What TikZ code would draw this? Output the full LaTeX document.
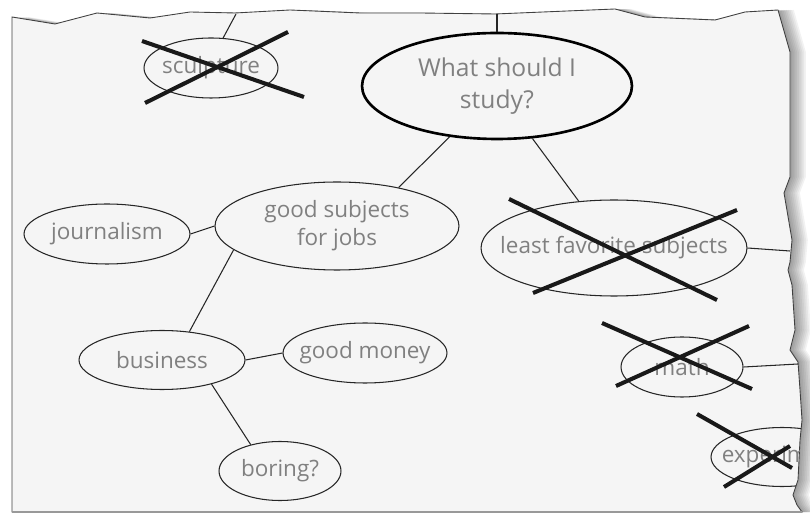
\documentclass[tikz,border=0pt]{standalone}
\usepackage{fontspec}
\setmainfont{Open Sans}
\usetikzlibrary{shapes.geometric}

\def\edgepts{55/24,97/13,150/18,190/12,235/13,290/10,360/13,420/13,495/14,615/9,645/17,715/20,745/12,778/10,790/52,790/177,784/193,792/240,790/262,788/270,792/285,795/330,790/350,798/362,800/390,802/420,800/440,798/480,793/495,797/505,802/512,12/512}

\begin{document}
\begin{tikzpicture}[
    x=0.02cm, y=-0.02cm,
    txt/.style={text=black!50, font=\fontsize{12.8}{16}\selectfont, align=center, inner sep=0pt},
    bubble/.style={ellipse, draw=black!85, line width=0.6pt, inner sep=0pt},
    say/.style={label={[txt]center:#1}},
    topic/.style={bubble, line width=1.5pt, draw=black},
    link/.style={draw=black!85, line width=0.6pt},
    crossout/.style={line width=2.3pt, line cap=butt, black!90}
  ]
  \useasboundingbox (0,0) rectangle (810,519);
  % paper sheet
  \foreach \s in {1,2,...,9}
    \fill[black, opacity=0.05, xshift=\s pt] (12,17) \foreach \x/\y in \edgepts { -- (\x,\y) } -- cycle;
  \fill[black!4] (12,17) \foreach \x/\y in \edgepts { -- (\x,\y) } -- cycle;
  \draw[black!75, line width=0.5pt] (12,17) \foreach \x/\y in \edgepts { -- (\x,\y) } -- cycle;
  \draw[black!40, line width=1.5pt] (12,512) -- (802,512);

  \node[topic, minimum width=5.4cm, minimum height=2.12cm,
    label={[txt, font=\fontsize{14}{18}\selectfont]center:{What should I\\study?}}] (root) at (497,86) {};
  \node[bubble, minimum width=2.68cm, minimum height=1.2cm, say=sculpture] (scu) at (211,68) {};
  \node[bubble, minimum width=4.88cm, minimum height=1.76cm, say={{good subjects\\for jobs}}] (good) at (337,226) {};
  \node[bubble, minimum width=3.32cm, minimum height=1.2cm, say=journalism] (jour) at (107,234) {};
  \node[bubble, minimum width=5.32cm, minimum height=1.92cm, say={least favorite subjects}] (least) at (614,248) {};
  \node[bubble, minimum width=3.32cm, minimum height=1.18cm, say=business] (bus) at (162,360) {};
  \node[bubble, minimum width=3.28cm, minimum height=1.2cm, say={good money}] (money) at (365,353) {};
  \node[bubble, minimum width=2.44cm, minimum height=1.18cm, say=boring?] (boring) at (280,471) {};
  \node[bubble, minimum width=2.44cm, minimum height=1.2cm, say=math] (math) at (682,367) {};
  \begin{scope}
    \clip (12,17) \foreach \x/\y in \edgepts { -- (\x,\y) } -- cycle;
    \node[bubble, minimum width=2.84cm, minimum height=1.18cm, say=experiment] (exper) at (782,457) {};
  \end{scope}

  \coordinate (top1) at (236,14);
  \coordinate (top2) at (497,14);
  \coordinate (edge1) at (790,251);
  \coordinate (edge2) at (798,364);

  \draw[link] (scu.68) -- (top1);
  \draw[link] (root.north) -- (top2);
  \draw[link] (root.227) -- (good.32);
  \draw[link] (root.304) -- (least.127);
  \draw[link] (jour.east) -- (good.west);
  \draw[link] (good.193) -- (bus.46);
  \draw[link] (bus.east) -- (money.west);
  \draw[link] (bus.334) -- (boring.138);
  \draw[link] (least.east) -- (edge1);
  \draw[link] (math.east) -- (edge2);

  % crossed out
  \draw[crossout] (142,41) -- (304,97);
  \draw[crossout] (145,103) -- (288,32);
  \draw[crossout] (509,199) -- (717,300);
  \draw[crossout] (533,293) -- (737,210);
  \draw[crossout] (602,323) -- (752,389);
  \draw[crossout] (616,386) -- (749,326);
  \draw[crossout] (697,414) -- (792,468);
  \draw[crossout] (724,487) -- (790,446);
\end{tikzpicture}
\end{document}
